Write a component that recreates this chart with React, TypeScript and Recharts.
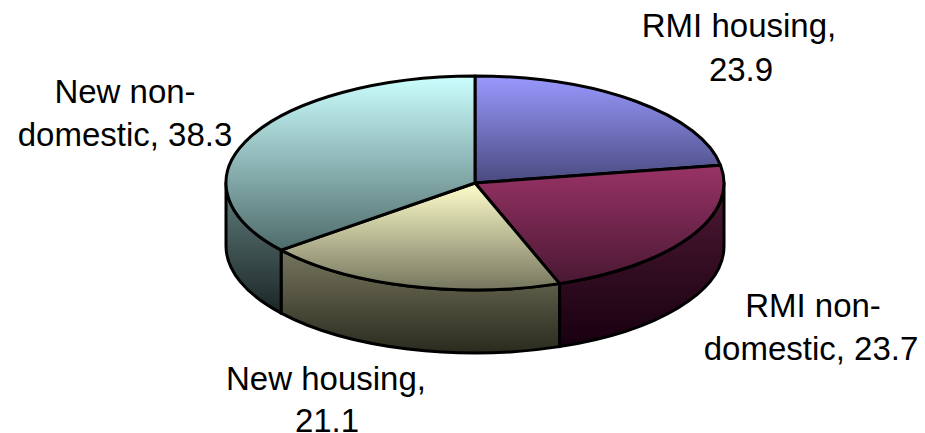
import { Pie, PieChart } from "recharts";

const categories = ["RMI housing", "RMI non-domestic", "New housing", "New non-domestic"];
const values = [23.9, 23.7, 21.1, 38.3];
const topColours = ["#9999ff", "#993366", "#ffffcc", "#ccffff"];
const topDarks = ["#4a4a80", "#4a1833", "#75755e", "#4f6b6b"];
const sideColours = ["#4a4a80", "#4f1a35", "#76765e", "#637f7f"];
const sideDarks = ["#1a1a30", "#180010", "#2a2a1e", "#1b2626"];

const labelLines = [
  ["RMI housing,", "23.9"],
  ["RMI non-", "domestic, 23.7"],
  ["New housing,", "21.1"],
  ["New non-", "domestic, 38.3"],
];

// centre of each text line and its baseline
const labelSpots = [
  { xs: [739, 741], ys: [37, 81] },
  { xs: [813, 811], ys: [317, 360] },
  { xs: [326, 327], ys: [390, 432] },
  { xs: [125, 125], ys: [103, 146] },
];

const tableData = categories.map((name, i) => ({ name, value: values[i], idx: i }));

const SQUASH = 107 / 249;
const DEPTH = 63;

const px = (cx: number, rx: number, a: number) => cx + rx * Math.cos((a * Math.PI) / 180);
const py = (cy: number, ry: number, a: number) => cy - ry * Math.sin((a * Math.PI) / 180);

function TopSlice(props: any) {
  const { cx, cy, outerRadius, startAngle, endAngle, payload } = props;
  const rx = outerRadius;
  const ry = outerRadius * SQUASH;
  const hi = Math.max(startAngle, endAngle);
  const lo = Math.min(startAngle, endAngle);
  const large = hi - lo > 180 ? 1 : 0;
  const d = `M${cx},${cy} L${px(cx, rx, hi)},${py(cy, ry, hi)} A${rx},${ry} 0 ${large} 1 ${px(cx, rx, lo)},${py(cy, ry, lo)} Z`;
  return <path d={d} fill={`url(#top${payload.idx})`} stroke="#000" strokeWidth={3} strokeLinejoin="round" />;
}

function SideSlice(props: any) {
  const { cx, cy, outerRadius, startAngle, endAngle, payload } = props;
  const rx = outerRadius;
  const ry = outerRadius * SQUASH;
  // only the front half of the rim is visible
  const hi = Math.min(Math.max(startAngle, endAngle), 0);
  const lo = Math.max(Math.min(startAngle, endAngle), -180);
  if (hi <= lo) return <g />;
  const d =
    `M${px(cx, rx, hi)},${py(cy, ry, hi)} A${rx},${ry} 0 0 1 ${px(cx, rx, lo)},${py(cy, ry, lo)} ` +
    `L${px(cx, rx, lo)},${py(cy, ry, lo) + DEPTH} A${rx},${ry} 0 0 0 ${px(cx, rx, hi)},${py(cy, ry, hi) + DEPTH} Z`;
  return <path d={d} fill={`url(#side${payload.idx})`} stroke="#000" strokeWidth={3} strokeLinejoin="round" />;
}

function SliceLabel(props: any) {
  const i = props.payload?.idx ?? props.index;
  const spot = labelSpots[i];
  return (
    <text textAnchor="middle" fontSize={33} fill="#000" fontFamily="Liberation Sans">
      {labelLines[i].map((line, n) => (
        <tspan key={line} x={spot.xs[n]} y={spot.ys[n]}>
          {line}
        </tspan>
      ))}
    </text>
  );
}

export default function App() {
  return (
    <div style={{ position: "absolute", left: 0, top: 0, width: 925, height: 433 }}>
      <PieChart width={925} height={433} margin={{ top: 0, right: 0, bottom: 0, left: 0 }}>
        <defs>
          {categories.map((c, i) => (
            <linearGradient key={c} id={`top${i}`} x1="0" y1="0" x2="0" y2="1">
              <stop offset="0%" stopColor={topColours[i]} />
              <stop offset="100%" stopColor={topDarks[i]} />
            </linearGradient>
          ))}
          {categories.map((c, i) => (
            <linearGradient key={c} id={`side${i}`} x1="0" y1="0" x2="0" y2="1">
              <stop offset="0%" stopColor={sideColours[i]} />
              <stop offset="100%" stopColor={sideDarks[i]} />
            </linearGradient>
          ))}
        </defs>
        <Pie
          data={tableData}
          dataKey="value"
          nameKey="name"
          cx={475}
          cy={183}
          outerRadius={249}
          startAngle={90}
          endAngle={-270}
          paddingAngle={0}
          stroke="none"
          isAnimationActive={false}
          shape={SideSlice}
          label={false}
          labelLine={false}
        />
        <Pie
          data={tableData}
          dataKey="value"
          nameKey="name"
          cx={475}
          cy={183}
          outerRadius={249}
          startAngle={90}
          endAngle={-270}
          paddingAngle={0}
          stroke="none"
          isAnimationActive={false}
          shape={TopSlice}
          label={SliceLabel}
          labelLine={false}
        />
      </PieChart>
    </div>
  );
}
